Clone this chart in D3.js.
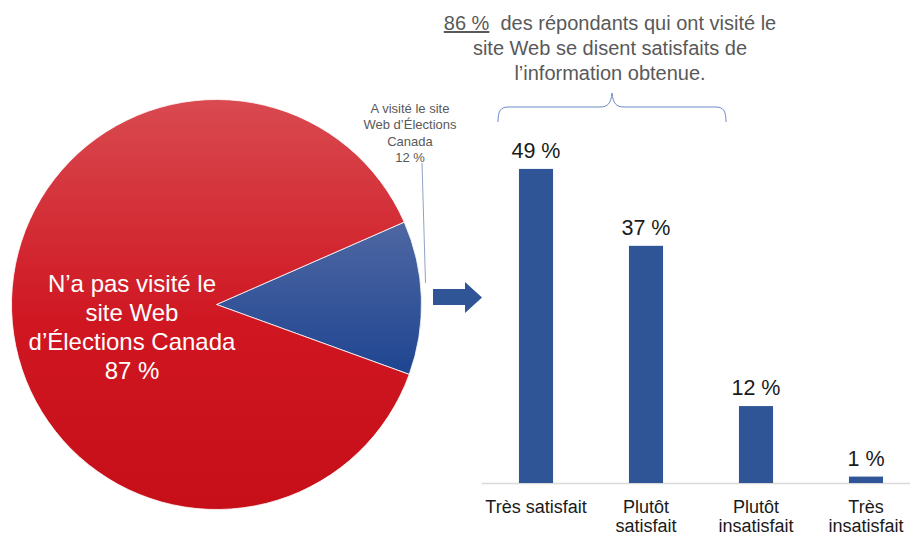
<!DOCTYPE html>
<html lang="fr">
<head>
<meta charset="utf-8">
<title></title>
<script src="https://d3js.org/d3.v7.min.js"></script>
<style>
  html, body { margin: 0; padding: 0; background: #fff; }
  svg { display: block; font-family: "Liberation Sans", Arial, sans-serif; }
</style>
</head>
<body>
<div id="chart"></div>
<script>
  // pie: a visité / n'a pas visité le site
  var pieLabels = ["A visité le site Web d’Élections Canada", "N’a pas visité le site Web d’Élections Canada"];
  var pieValues = [12, 87];

  // bars: satisfaction
  var categories = ["Très satisfait", "Plutôt satisfait", "Plutôt insatisfait", "Très insatisfait"];
  var catLines = [["Très satisfait"], ["Plutôt", "satisfait"], ["Plutôt", "insatisfait"], ["Très", "insatisfait"]];
  var satValues = [49, 37, 12, 1];

  var headerLines = ["des répondants qui ont visité le", "site Web se disent satisfaits de", "l’information obtenue."];
  var headerValue = "86 %";

  var w = 910, h = 536;
  var svg = d3.select("#chart").append("svg").attr("width", w).attr("height", h);
  var defs = svg.append("defs");

  var gRed = defs.append("linearGradient").attr("id", "gRed")
    .attr("x1", 0).attr("y1", 0).attr("x2", 0).attr("y2", 1);
  gRed.append("stop").attr("offset", "0%").attr("stop-color", "#d94a50");
  gRed.append("stop").attr("offset", "55%").attr("stop-color", "#cf1621");
  gRed.append("stop").attr("offset", "100%").attr("stop-color", "#c60f19");
  var gBlue = defs.append("linearGradient").attr("id", "gBlue")
    .attr("x1", 0).attr("y1", 0).attr("x2", 0).attr("y2", 1);
  gBlue.append("stop").attr("offset", "0%").attr("stop-color", "#4f67a3");
  gBlue.append("stop").attr("offset", "100%").attr("stop-color", "#1f4591");

  // ---- pie ----
  var cx = 216.5, cy = 304.5, r = 205;
  var a0 = 66.3 * Math.PI / 180;
  var pie = d3.pie().sort(null).startAngle(a0).endAngle(a0 + 2 * Math.PI);
  var arc = d3.arc().innerRadius(0).outerRadius(r);
  var arcs = pie(pieValues);

  var pg = svg.append("g").attr("transform", "translate(" + cx + "," + cy + ")");
  pg.selectAll("path").data(arcs).enter().append("path")
    .attr("d", arc)
    .attr("fill", (d, i) => i == 0 ? "url(#gBlue)" : "url(#gRed)")
    .attr("stroke", "#fff").attr("stroke-width", 0.8);

  // big label inside red slice
  var redText = ["N’a pas visité le", "site Web", "d’Élections Canada", pieValues[1] + " %"];
  svg.append("text").attr("x", 132).attr("y", 292)
    .attr("text-anchor", "middle").attr("fill", "#fff").attr("font-size", 24)
    .selectAll("tspan").data(redText).enter().append("tspan")
    .attr("x", 132).attr("dy", (d, i) => i == 0 ? 0 : 29).text(d => d);

  // small label for the blue slice
  var blueText = ["A visité le site", "Web d’Élections", "Canada", pieValues[0] + " %"];
  svg.append("text").attr("x", 410).attr("y", 113)
    .attr("text-anchor", "middle").attr("fill", "#595959").attr("font-size", 13)
    .selectAll("tspan").data(blueText).enter().append("tspan")
    .attr("x", 410).attr("dy", (d, i) => i == 0 ? 0 : 16.3).text(d => d);
  svg.append("line").attr("x1", 422).attr("y1", 163).attr("x2", 425.5).attr("y2", 283)
    .attr("stroke", "#8ea3c6").attr("stroke-width", 1);

  // arrow
  svg.append("path")
    .attr("d", "M433,289 L465,289 L465,282 L482,297.5 L465,313 L465,305 L433,305 Z")
    .attr("fill", "#2f5597");

  // ---- bars ----
  var x = d3.scaleBand().domain(categories).range([481, 921]).paddingInner(0.69).paddingOuter(0.345);
  var y = d3.scaleLinear().domain([0, 50]).range([483, 162.5]);

  var xAxis = d3.axisBottom(x).tickSize(0).tickSizeOuter(0).tickFormat("");
  var ax = svg.append("g").attr("transform", "translate(0," + y(0) + ")").call(xAxis);
  ax.select(".domain").attr("stroke", "#d9d9d9").attr("stroke-width", 1.3);

  svg.selectAll("rect.bar").data(satValues).enter().append("rect").attr("class", "bar")
    .attr("x", (d, i) => x(categories[i]))
    .attr("y", d => y(d))
    .attr("width", x.bandwidth())
    .attr("height", d => y(0) - y(d))
    .attr("fill", "#2f5597");

  svg.selectAll("text.val").data(satValues).enter().append("text").attr("class", "val")
    .attr("x", (d, i) => x(categories[i]) + x.bandwidth() / 2)
    .attr("y", d => y(d) - 11)
    .attr("text-anchor", "middle").attr("font-size", 21.5).attr("fill", "#1a1a1a")
    .text(d => d + " %");

  var cat = svg.selectAll("text.cat").data(catLines).enter().append("text").attr("class", "cat")
    .attr("text-anchor", "middle").attr("font-size", 18).attr("fill", "#1a1a1a")
    .attr("y", 513);
  cat.selectAll("tspan").data((d, i) => d.map(s => [s, i])).enter().append("tspan")
    .attr("x", d => x(categories[d[1]]) + x.bandwidth() / 2)
    .attr("dy", (d, j) => j == 0 ? 0 : 19)
    .text(d => d[0]);

  // ---- header ----
  var hx = 610;
  var ht = svg.append("text").attr("text-anchor", "middle").attr("fill", "#595959").attr("font-size", 20);
  var l1 = ht.append("tspan").attr("x", hx).attr("y", 30);
  l1.append("tspan").attr("text-decoration", "underline").text(headerValue);
  l1.append("tspan").text("\u00a0 " + headerLines[0]);
  ht.append("tspan").attr("x", hx).attr("y", 55).text(headerLines[1]);
  ht.append("tspan").attr("x", hx).attr("y", 80).text(headerLines[2]);

  // brace over the bars
  svg.append("path")
    .attr("d", "M498,122 C498,112 500,107 508,107 L600,107 C608,107 611,103 612,93 C613,103 616,107 624,107 L716,107 C724,107 726,112 726,122")
    .attr("fill", "none").attr("stroke", "#6c8bc4").attr("stroke-width", 1);
</script>
</body>
</html>
